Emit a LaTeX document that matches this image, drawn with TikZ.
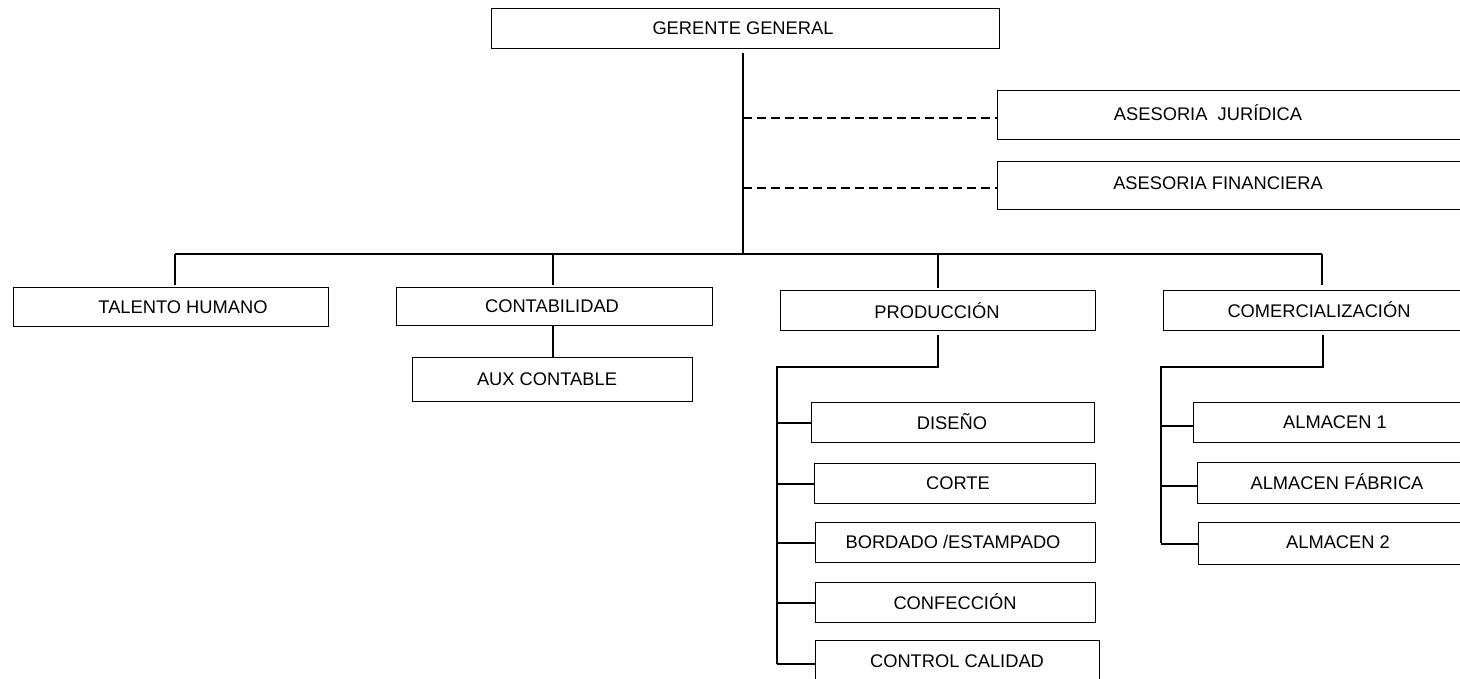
\documentclass[tikz,border=0pt]{standalone}
\usepackage{fontspec}
\setmainfont{Liberation Sans}
\begin{document}
\begin{tikzpicture}[x=1pt,y=-1pt,
  box/.style={draw, line width=1.4pt, inner sep=0pt, anchor=north west},
  lbl/.style={inner sep=0pt, font=\fontsize{18.3}{22}\selectfont},
  ln/.style={line width=1.8pt},
  dsh/.style={line width=1.8pt, dash pattern=on 9pt off 5pt}]
\useasboundingbox (0,0) rectangle (1460,678);
\clip (0,0) rectangle (1460,678);
% boxes
\node[box, minimum width=508pt, minimum height=40pt] (gg) at (491,8) {};
\node[box, minimum width=500pt, minimum height=49pt] (asj) at (997,90) {};
\node[box, minimum width=500pt, minimum height=48pt] (asf) at (997,161) {};
\node[box, minimum width=315pt, minimum height=39pt] (th) at (13,287) {};
\node[box, minimum width=316pt, minimum height=38pt] (cont) at (396,287) {};
\node[box, minimum width=280pt, minimum height=44pt] (aux) at (412,357) {};
\node[box, minimum width=315pt, minimum height=40pt] (prod) at (780,290) {};
\node[box, minimum width=400pt, minimum height=40pt] (com) at (1163,290) {};
\node[box, minimum width=283pt, minimum height=40pt] (dis) at (811,402) {};
\node[box, minimum width=281pt, minimum height=40pt] (cor) at (814,463) {};
\node[box, minimum width=280pt, minimum height=40pt] (bor) at (815,522) {};
\node[box, minimum width=280pt, minimum height=40pt] (conf) at (815,582) {};
\node[box, minimum width=284pt, minimum height=46pt] (cc) at (815,640) {};
\node[box, minimum width=300pt, minimum height=40pt] (alm1) at (1193,402) {};
\node[box, minimum width=300pt, minimum height=41pt] (almf) at (1197,462) {};
\node[box, minimum width=300pt, minimum height=42pt] (alm2) at (1198,522) {};
% labels
\node[lbl] (tgg) at (743,28) {GERENTE GENERAL};
\node[lbl] (tasj) at (1208,113) {ASESORIA\ \ JURÍDICA};
\node[lbl] (tasf) at (1218,183) {ASESORIA FINANCIERA};
\node[lbl] (tth) at (183,307) {TALENTO HUMANO};
\node[lbl] (tcont) at (552,306) {CONTABILIDAD};
\node[lbl] (taux) at (547,379) {AUX CONTABLE};
\node[lbl] (tprod) at (937,311) {PRODUCCIÓN};
\node[lbl] (tcom) at (1319,310) {COMERCIALIZACIÓN};
\node[lbl] (tdis) at (952,422) {DISEÑO};
\node[lbl] (tcor) at (958,483) {CORTE};
\node[lbl] (tbor) at (953,542) {BORDADO /ESTAMPADO};
\node[lbl] (tconf) at (955,602) {CONFECCIÓN};
\node[lbl] (tcc) at (957,661) {CONTROL CALIDAD};
\node[lbl] (talm1) at (1335,422) {ALMACEN 1};
\node[lbl] (talmf) at (1337,482) {ALMACEN FÁBRICA};
\node[lbl] (talm2) at (1338,542) {ALMACEN 2};
% coordinates
\coordinate (hub) at (743,254);
\coordinate (tl) at (175,254);
\coordinate (tr) at (1322,254);
\coordinate (pv) at (777,367);
\coordinate (pbot) at (777,664);
\coordinate (cv) at (1161,367);
\coordinate (cbot) at (1161,543);
% main connectors
\draw[ln] ([yshift=-4pt]gg.south -| hub) -- (hub);
\draw[dsh] ([yshift=-3pt]asj.west -| hub) -- ([yshift=-3pt]asj.west);
\draw[dsh] ([yshift=-2pt]asf.west -| hub) -- ([yshift=-2pt]asf.west);
\draw[ln] (tl) -- (tr);
\draw[ln, shorten >=2pt] (tl) -- (tl |- th.north);
\draw[ln, shorten >=2pt] (tl -| aux.north) -- (aux.north |- cont.north);
\draw[ln, shorten >=2pt] (tl -| prod.north) -- (prod.north);
\draw[ln, shorten >=5pt] (tr) -- (tr |- com.north);
\draw[ln] (aux.north |- cont.south) -- (aux.north);
% production
\draw[ln] ([yshift=-4pt]prod.south) |- (pv) -- (pbot);
\draw[ln] (dis.west -| pv) -- (dis.west);
\draw[ln] (cor.west -| pv) -- (cor.west);
\draw[ln] (bor.west -| pv) -- (bor.west);
\draw[ln] (conf.west -| pv) -- (conf.west);
\draw[ln] (cc.west -| pv) -- (cc.west);
% commercialization
\draw[ln] ([yshift=-4pt]com.south -| tr) ++(1,0) |- (cv) -- (cbot);
\draw[ln] ([yshift=-3pt]alm1.west -| cv) -- ([yshift=-3pt]alm1.west);
\draw[ln] ([yshift=-3pt]almf.west -| cv) -- ([yshift=-3pt]almf.west);
\draw[ln] (alm2.west -| cv) -- (alm2.west);
\end{tikzpicture}
\end{document}
